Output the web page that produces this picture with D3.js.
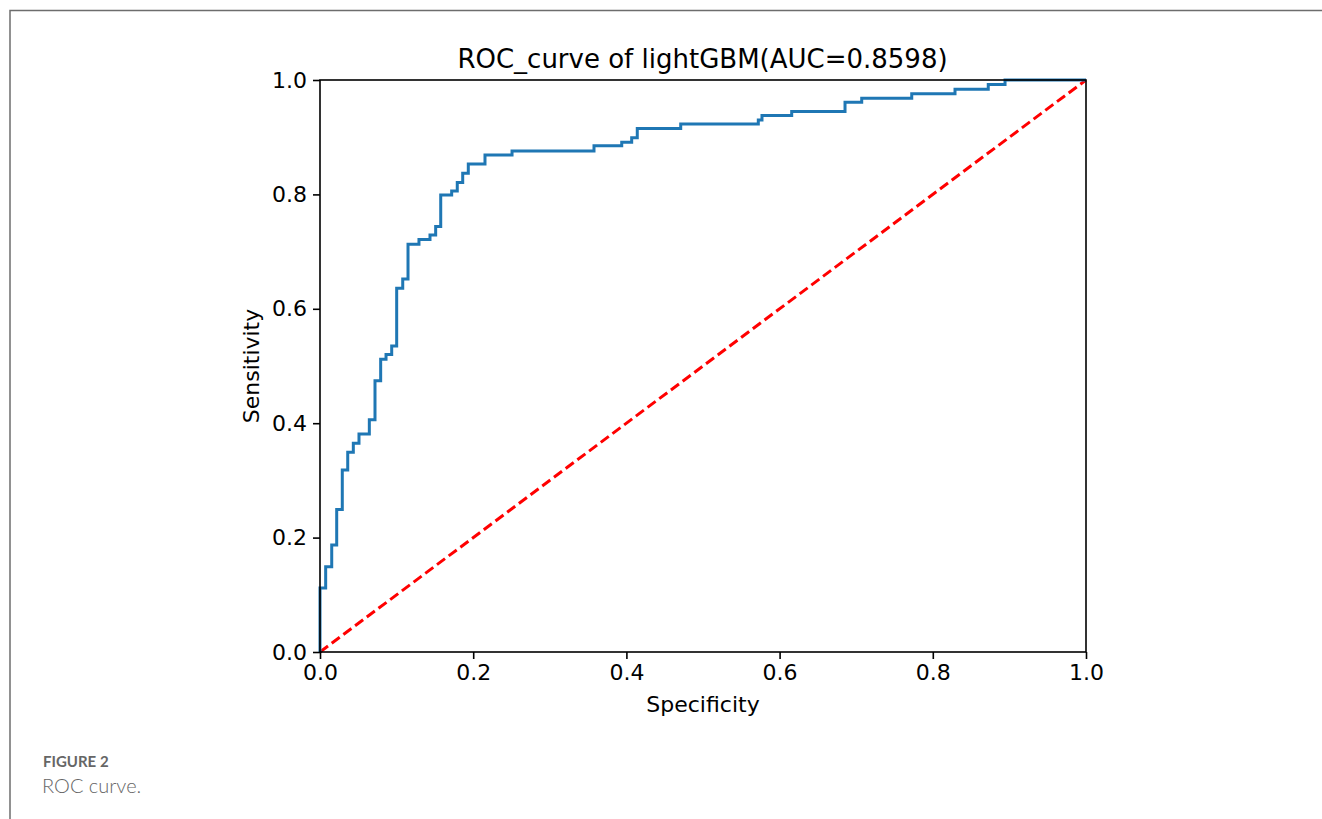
<!DOCTYPE html>
<html>
<head>
<meta charset="utf-8">
<script src="https://cdn.jsdelivr.net/npm/d3@7"></script>
<style>
  body { margin: 0; background: #fff; }
  svg text { font-family: 'DejaVu Sans', sans-serif; }
</style>
</head>
<body>
<div id="chart"></div>
<script>
// ROC points (false positive rate on x, sensitivity after the step on y)
const fpr = [0, 0, 0.0074, 0.0153, 0.0218, 0.0291, 0.0362, 0.0435, 0.0509, 0.0644, 0.0718,
  0.0792, 0.0862, 0.0936, 0.1001, 0.108, 0.1149, 0.1292, 0.1436, 0.151, 0.1576, 0.1719,
  0.1792, 0.1863, 0.1936, 0.2154, 0.2507, 0.3577, 0.3939, 0.4069, 0.4142, 0.4709, 0.5722,
  0.577, 0.6158, 0.6854, 0.7072, 0.7725, 0.829, 0.8724, 0.8943, 1.0];
const tpr = [0, 0.112, 0.149, 0.187, 0.249, 0.318, 0.349, 0.365, 0.381, 0.406, 0.474,
  0.512, 0.520, 0.535, 0.636, 0.652, 0.713, 0.721, 0.729, 0.744, 0.799, 0.806,
  0.821, 0.837, 0.853, 0.869, 0.876, 0.885, 0.891, 0.899, 0.915, 0.923, 0.930,
  0.938, 0.945, 0.961, 0.968, 0.976, 0.984, 0.992, 1.0, 1.0];
const chanceLine = [[0, 0], [1, 1]];
const ticks = [0, 0.2, 0.4, 0.6, 0.8, 1.0];

const width = 1322;
const height = 819;
const plot = {left: 320, right: 1086, top: 80, bottom: 652};
const tickFont = '22px';

const xScale = d3.scaleLinear().domain([0, 1]).range([plot.left, plot.right]);
const yScale = d3.scaleLinear().domain([0, 1]).range([plot.bottom, plot.top]);

const svg = d3.select('#chart')
  .append('svg')
    .attr('width', width)
    .attr('height', height);

// page frame
svg.append('path')
  .attr('d', `M10,${height} V10.5 H${width}`)
  .attr('fill', 'none')
  .attr('stroke', '#6d6d6d')
  .attr('stroke-width', 1.5);

// chance diagonal
svg.append('path')
  .datum(chanceLine)
  .attr('d', d3.line().x(d => xScale(d[0])).y(d => yScale(d[1])))
  .attr('fill', 'none')
  .attr('stroke', '#ff0000')
  .attr('stroke-width', 3)
  .attr('stroke-dasharray', '10,4.6');

// roc curve
const rocData = fpr.map((f, i) => [f, tpr[i]]);
svg.append('path')
  .datum(rocData)
  .attr('d', d3.line().x(d => xScale(d[0])).y(d => yScale(d[1])).curve(d3.curveStepAfter))
  .attr('fill', 'none')
  .attr('stroke', '#1f77b4')
  .attr('stroke-width', 3);

// axes frame
svg.append('rect')
  .attr('x', plot.left)
  .attr('y', plot.top)
  .attr('width', plot.right - plot.left)
  .attr('height', plot.bottom - plot.top)
  .attr('fill', 'none')
  .attr('stroke', '#000')
  .attr('stroke-width', 1.6);

const xAxis = svg.append('g')
  .attr('transform', `translate(0,${plot.bottom})`)
  .call(d3.axisBottom(xScale).tickValues(ticks).tickFormat(d3.format('.1f')).tickSize(7).tickPadding(5));
const yAxis = svg.append('g')
  .attr('transform', `translate(${plot.left},0)`)
  .call(d3.axisLeft(yScale).tickValues(ticks).tickFormat(d3.format('.1f')).tickSize(7).tickPadding(6));

[xAxis, yAxis].forEach(a => {
  a.select('.domain').remove();
  a.selectAll('.tick line').attr('stroke', '#000').attr('stroke-width', 1.6);
  a.selectAll('.tick text')
    .style('font-size', tickFont)
    .style('font-family', 'DejaVu Sans, sans-serif')
    .attr('fill', '#000');
});

// labels
svg.append('text')
  .attr('x', (plot.left + plot.right) / 2 - 0.5)
  .attr('y', 68)
  .attr('text-anchor', 'middle')
  .style('font-size', '26px')
  .text('ROC_curve of lightGBM(AUC=0.8598)');

svg.append('text')
  .attr('x', (plot.left + plot.right) / 2)
  .attr('y', 712)
  .attr('text-anchor', 'middle')
  .style('font-size', tickFont)
  .text('Specificity');

svg.append('text')
  .attr('transform', `translate(259,${(plot.top + plot.bottom) / 2}) rotate(-90)`)
  .attr('text-anchor', 'middle')
  .style('font-size', tickFont)
  .text('Sensitivity');

// caption
svg.append('text')
  .attr('x', 43)
  .attr('y', 767)
  .style('font-family', 'Lato, sans-serif')
  .style('font-weight', 'bold')
  .style('font-size', '15px')
  .attr('fill', '#666')
  .text('FIGURE 2');

svg.append('text')
  .attr('x', 42)
  .attr('y', 793)
  .style('font-family', 'Lato, sans-serif')
  .style('font-weight', '300')
  .style('font-size', '20px')
  .attr('fill', '#666')
  .text('ROC curve.');
</script>
</body>
</html>
